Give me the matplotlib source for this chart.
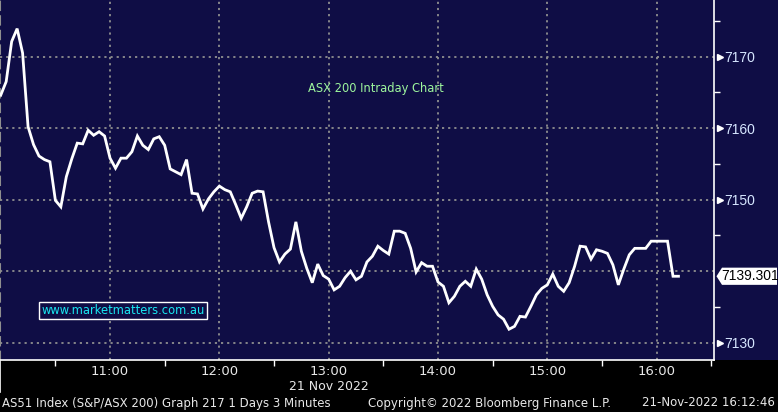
import matplotlib
matplotlib.use('Agg')
import matplotlib.pyplot as plt
import matplotlib.dates as mdates
import matplotlib.transforms as mtransforms
from matplotlib.patches import Polygon
import pandas as pd

# ASX 200 (AS51) 3-minute closes, 21 Nov 2022, 10:00 -> 16:12
values = [
    7164.6, 7166.5, 7172.1, 7173.9, 7170.5, 7160.2, 7157.7, 7156.1, 7155.6, 7155.3,
    7149.9, 7149.0, 7153.2, 7155.7, 7157.9, 7157.8, 7159.7, 7159.0, 7159.5, 7158.9,
    7155.8, 7154.4, 7155.8, 7155.8, 7156.7, 7158.9, 7157.6, 7157.0, 7158.5, 7158.8,
    7157.6, 7154.3, 7153.9, 7153.5, 7155.6, 7150.9, 7150.8, 7148.7, 7150.1, 7151.1,
    7151.9, 7151.4, 7151.1, 7149.3, 7147.4, 7149.0, 7150.9, 7151.2, 7151.1, 7146.9,
    7143.3, 7141.3, 7142.4, 7143.1, 7146.9, 7142.8, 7140.4, 7138.4, 7141.0, 7139.4,
    7138.9, 7137.4, 7137.9, 7139.1, 7140.0, 7138.8, 7139.3, 7141.3, 7142.1, 7143.5,
    7142.9, 7142.4, 7145.6, 7145.6, 7145.3, 7143.2, 7139.9, 7141.2, 7140.7, 7140.7,
    7138.5, 7137.9, 7135.6, 7136.5, 7137.9, 7138.6, 7137.9, 7140.3, 7138.9, 7136.7,
    7135.1, 7133.9, 7133.3, 7131.9, 7132.3, 7133.7, 7133.6, 7135.1, 7136.7, 7137.6,
    7138.1, 7139.6, 7137.9, 7137.2, 7138.4, 7140.7, 7143.5, 7143.4, 7141.7, 7143.0,
    7142.8, 7142.5, 7140.9, 7138.1, 7140.3, 7142.3, 7143.2, 7143.2, 7143.2, 7144.2,
    7144.2, 7144.2, 7144.2, 7139.3, 7139.301,
]
times = pd.date_range('2022-11-21 10:00', periods=len(values), freq='3min')
last_price = 7139.301

y_ticks = [7130, 7140, 7150, 7160, 7170]
y_labels = ['7130', '', '7150', '7160', '7170']
y_minor = [7135, 7145, 7155, 7165, 7175]
hour_ticks = pd.date_range('2022-11-21 11:00', '2022-11-21 16:00', freq='1h')
hour_labels = ['11:00', '12:00', '13:00', '14:00', '15:00', '16:00']
half_ticks = pd.date_range('2022-11-21 10:30', '2022-11-21 16:30', freq='1h')

navy = '#0f0d45'
grid_c = '#8f8f8f'
fnt = 'DejaVu Sans'
num_fnt = 'Liberation Sans'
ymin, ymax = 7127.6, 7177.9

fig = plt.figure(figsize=(7.78, 4.12), dpi=100, facecolor='black')
# navy band behind the chart and price scale
bg = fig.add_axes([0, 52 / 412, 1, 360 / 412])
bg.set_facecolor(navy)
bg.axis('off')
bg.add_patch(plt.Rectangle((0, 0), 1, 1, transform=bg.transAxes, color=navy))

ax = fig.add_axes([0, 52 / 412, 714 / 778, 360 / 412])
ax.set_facecolor(navy)

ax.plot(times, values, color='white', lw=2, solid_joinstyle='miter', zorder=3)

# grid
for t in hour_ticks:
    ax.axvline(t, color=grid_c, lw=1.3, ls=(0, (1.2, 2.2)), zorder=1)
for v in y_ticks:
    ax.axhline(v, color=grid_c, lw=1.3, ls=(0, (1.2, 2.2)), zorder=1)

# spines
ax.spines['top'].set_visible(False)
ax.spines['left'].set_color(grid_c)
ax.spines['left'].set_linestyle((0, (4, 3)))
ax.spines['left'].set_linewidth(1.5)
ax.spines['right'].set_color('white')
ax.spines['bottom'].set_color('white')
ax.spines['right'].set_linewidth(1.2)
ax.spines['bottom'].set_linewidth(1.2)

# y axis on right
ax.yaxis.tick_right()
ax.set_yticks(y_ticks)
ax.set_yticklabels(y_labels)
ax.set_yticks(y_minor, minor=True)
ax.tick_params(axis='y', which='major', length=0, pad=7.5, labelcolor='#d6e6ff',
               labelsize=10)
ax.tick_params(axis='y', which='minor', length=4, width=1, color='white', direction='out')
for lab in ax.get_yticklabels():
    lab.set_family(num_fnt)

# x axis
ax.set_xticks(half_ticks)
ax.set_xticklabels([])
ax.tick_params(axis='x', which='major', length=4, width=1, color='white', direction='out')

ax.set_xlim(pd.Timestamp('2022-11-21 09:59:36'), pd.Timestamp('2022-11-21 16:31:30'))
ax.set_ylim(ymin, ymax)

trans = mtransforms.blended_transform_factory(ax.transAxes, ax.transData)
for v in y_ticks:
    if v != 7140:
        ax.plot([1.008], [v], marker='>', color='white', ms=5, transform=trans,
                clip_on=False, zorder=5)

for t, lab in zip(hour_ticks, hour_labels):
    ax.annotate(lab, xy=(mdates.date2num(t), 0), xycoords=('data', 'axes fraction'),
                xytext=(0, -8), textcoords='offset points', ha='center', va='center',
                color='#e8e8e8', fontsize=9.5, family=fnt, annotation_clip=False)
ax.annotate('21 Nov 2022', xy=(mdates.date2num(hour_ticks[2]), 0),
            xycoords=('data', 'axes fraction'), xytext=(0, -19), textcoords='offset points',
            ha='center', va='center', color='#e8e8e8', fontsize=9, family=fnt,
            annotation_clip=False)
ax.plot([0, 0], [-0.09, 0], color='white', lw=1.2, transform=ax.transAxes, clip_on=False)

# last price label: white flag pointing at the price scale
ftrans = mtransforms.blended_transform_factory(fig.transFigure, ax.transData)
h = 8.6 * (ymax - ymin) / 360
flag = Polygon([(716.5 / 778, last_price), (722 / 778, last_price + h),
                (777 / 778, last_price + h), (777 / 778, last_price - h),
                (722 / 778, last_price - h)], closed=True, transform=ftrans,
               facecolor='white', edgecolor='none', clip_on=False, zorder=6)
fig.patches.append(flag)
fig.text(750 / 778, 0, '7139.301', transform=ftrans, ha='center', va='center',
         fontsize=10, color='black', family=num_fnt, zorder=7)
fig.texts[-1].set_y(last_price)

# chart title and watermark
ax.text(0.527, 0.755, 'ASX 200 Intraday Chart', transform=ax.transAxes, ha='center',
        va='center', color='#9df59d', fontsize=8.3, family=fnt)
ax.text(0.172, 0.138, 'www.marketmatters.com.au', transform=ax.transAxes, ha='center',
        va='center', color='#19e6f0', fontsize=8.3, family=fnt,
        bbox=dict(boxstyle='square,pad=0.2', fc=navy, ec='white', lw=1))

# footer
fig.text(2 / 778, 9 / 412, 'AS51 Index (S&P/ASX 200) Graph 217 1 Days 3 Minutes',
         color='#e8e8e8', fontsize=8.5, family=fnt, ha='left', va='center')
fig.text(368 / 778, 9 / 412, 'Copyright\u00a9 2022 Bloomberg Finance L.P.',
         color='#e8e8e8', fontsize=8.5, family=fnt, ha='left', va='center')
fig.text(775 / 778, 9 / 412, '21-Nov-2022 16:12:46',
         color='#e8e8e8', fontsize=8.5, family=fnt, ha='right', va='center')

fig.savefig('out.png', dpi=100, facecolor='black')
